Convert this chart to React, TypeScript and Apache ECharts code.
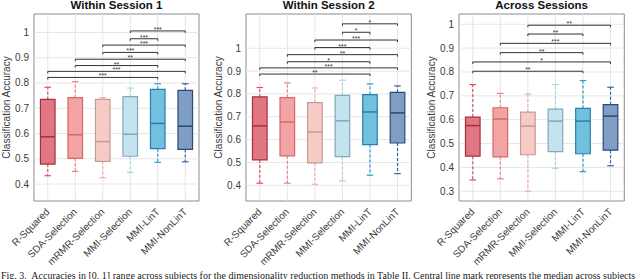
import React, { useEffect, useRef } from "react";
import * as echarts from "echarts";

const categories = ["R-Squared", "SDA-Selection", "mRMR-Selection", "MMI-Selection", "MMI-LinT", "MMI-NonLinT"];
const panelTitles = ["Within Session 1", "Within Session 2", "Across Sessions"];

// [low whisker, Q1, median, Q3, high whisker]
const session1Boxes = [
  [0.433, 0.479, 0.587, 0.735, 0.783],
  [0.45, 0.502, 0.595, 0.742, 0.805],
  [0.425, 0.49, 0.568, 0.735, 0.742],
  [0.446, 0.51, 0.597, 0.746, 0.78],
  [0.486, 0.54, 0.64, 0.775, 0.797],
  [0.488, 0.537, 0.629, 0.771, 0.797],
];
const session2Boxes = [
  [0.409, 0.511, 0.66, 0.787, 0.828],
  [0.409, 0.529, 0.677, 0.784, 0.848],
  [0.404, 0.498, 0.633, 0.762, 0.826],
  [0.419, 0.525, 0.682, 0.794, 0.86],
  [0.444, 0.578, 0.721, 0.797, 0.844],
  [0.451, 0.585, 0.717, 0.807, 0.835],
];
const acrossBoxes = [
  [0.347, 0.447, 0.575, 0.611, 0.747],
  [0.352, 0.444, 0.603, 0.65, 0.71],
  [0.3, 0.453, 0.573, 0.632, 0.708],
  [0.396, 0.466, 0.594, 0.644, 0.747],
  [0.382, 0.457, 0.594, 0.647, 0.764],
  [0.407, 0.472, 0.615, 0.663, 0.736],
];

// significance brackets: [from category, to category, height, stars]
const session1Sig = [
  [3, 5, 1.006, "***"], [3, 4, 0.975, "***"], [2, 5, 0.95, "***"], [2, 4, 0.921, "***"],
  [1, 5, 0.894, "**"], [1, 4, 0.869, "**"], [0, 5, 0.846, "***"], [0, 4, 0.822, "***"],
];
const session2Sig = [
  [3, 5, 1.107, "*"], [3, 4, 1.07, "*"], [2, 5, 1.036, "***"], [2, 4, 1.003, "***"],
  [1, 5, 0.972, "**"], [1, 4, 0.941, "*"], [0, 5, 0.914, "***"], [0, 4, 0.887, "**"],
];
const acrossSig = [
  [2, 5, 0.996, "**"], [2, 4, 0.959, "**"], [1, 5, 0.92, "***"], [1, 4, 0.881, "**"],
  [0, 5, 0.842, "*"], [0, 4, 0.803, "**"],
];

const session1Ticks = [0.4, 0.5, 0.6, 0.7, 0.8, 0.9, 1];
const session2Ticks = [0.4, 0.5, 0.6, 0.7, 0.8, 0.9, 1];
const acrossTicks = [0.3, 0.4, 0.5, 0.6, 0.7, 0.8, 0.9, 1];

const session1Range = [0.333, 1.073];
const session2Range = [0.331, 1.15];
const acrossRange = [0.259, 1.043];

const caption =
  "Fig. 3.  Accuracies in [0, 1] range across subjects for the dimensionality reduction methods in Table II. Central line mark represents the median across subjects";

const FILLS = ["#e27682", "#f4a3a4", "#f8cac6", "#c4e3ee", "#70c0de", "#809dc5"];
const EDGES = ["#a3303e", "#d4686a", "#c49a97", "#7eaabb", "#2a7fae", "#284a78"];
const WHISK = ["#e0505c", "#ee8081", "#f1ada7", "#a3d3e4", "#2b9bd1", "#3a62a0"];

const GRIDS = [
  { left: 34, width: 165, top: 14, height: 187 },
  { left: 246, width: 165.3, top: 14, height: 187 },
  { left: 459, width: 165.3, top: 14, height: 187 },
];

const fmt = (v: number) => {
  if (Math.abs(v * 10 - Math.round(v * 10)) > 1e-6) return "";
  if (v > 1.0001) return "";
  return String(Math.round(v * 10) / 10);
};

function buildOption() {
  const boxes = [session1Boxes, session2Boxes, acrossBoxes];
  const sigs = [session1Sig, session2Sig, acrossSig];
  const ticks = [session1Ticks, session2Ticks, acrossTicks];
  const ranges = [session1Range, session2Range, acrossRange];

  const series: any[] = [];
  boxes.forEach((b, p) => {
    series.push({
      type: "custom",
      xAxisIndex: p,
      yAxisIndex: p,
      z: 1,
      silent: true,
      data: ticks[p].map((v) => [0, v]),
      encode: { x: 0, y: 1 },
      renderItem: (params: any, api: any) => {
        const cs = params.coordSys;
        const y = api.coord([0, api.value(1)])[1];
        return {
          type: "line",
          shape: { x1: cs.x, y1: y, x2: cs.x + cs.width, y2: y },
          style: { stroke: "#e6e6e6", lineWidth: 1 },
        };
      },
    });
    series.push({
      type: "custom",
      xAxisIndex: p,
      yAxisIndex: p,
      z: 1,
      silent: true,
      data: categories.map((_, i) => [i, ranges[p][0]]),
      encode: { x: 0, y: 1 },
      renderItem: (params: any, api: any) => {
        const cs = params.coordSys;
        const x = api.coord([api.value(0), api.value(1)])[0];
        return {
          type: "line",
          shape: { x1: x, y1: cs.y, x2: x, y2: cs.y + cs.height },
          style: { stroke: "#e6e6e6", lineWidth: 1 },
        };
      },
    });
    series.push({
      type: "custom",
      name: panelTitles[p],
      xAxisIndex: p,
      yAxisIndex: p,
      z: 3,
      data: b.map((r, i) => [i, ...r]),
      encode: { x: 0, y: [1, 2, 3, 4, 5] },
      renderItem: (params: any, api: any) => {
        const i = api.value(0);
        const pLow = api.coord([i, api.value(1)]);
        const pQ1 = api.coord([i, api.value(2)]);
        const pMed = api.coord([i, api.value(3)]);
        const pQ3 = api.coord([i, api.value(4)]);
        const pHigh = api.coord([i, api.value(5)]);
        const band = api.size([1, 0])[0];
        const hw = band * 0.265;
        const cw = band * 0.12;
        const x = pMed[0];
        const k = params.dataIndex;
        return {
          type: "group",
          children: [
            { type: "line", shape: { x1: x, y1: pQ3[1], x2: x, y2: pHigh[1] }, style: { stroke: WHISK[k], lineWidth: 1.2, lineDash: [3, 2] } },
            { type: "line", shape: { x1: x, y1: pQ1[1], x2: x, y2: pLow[1] }, style: { stroke: WHISK[k], lineWidth: 1.2, lineDash: [3, 2] } },
            { type: "line", shape: { x1: x - cw, y1: pHigh[1], x2: x + cw, y2: pHigh[1] }, style: { stroke: WHISK[k], lineWidth: 1.2 } },
            { type: "line", shape: { x1: x - cw, y1: pLow[1], x2: x + cw, y2: pLow[1] }, style: { stroke: WHISK[k], lineWidth: 1.2 } },
            { type: "rect", shape: { x: x - hw, y: pQ3[1], width: hw * 2, height: pQ1[1] - pQ3[1] }, style: { fill: FILLS[k], stroke: EDGES[k], lineWidth: 1.2 } },
            { type: "line", shape: { x1: x - hw, y1: pMed[1], x2: x + hw, y2: pMed[1] }, style: { stroke: EDGES[k], lineWidth: 1.5 } },
          ],
        };
      },
    });
    series.push({
      type: "custom",
      xAxisIndex: p,
      yAxisIndex: p,
      z: 4,
      silent: true,
      data: sigs[p],
      encode: { x: [0, 1], y: 2 },
      renderItem: (params: any, api: any) => {
        const a = api.coord([api.value(0), api.value(2)]);
        const c = api.coord([api.value(1), api.value(2)]);
        const label = sigs[p][params.dataIndex][3] as string;
        return {
          type: "group",
          children: [
            {
              type: "polyline",
              shape: { points: [[a[0], a[1] + 2], [a[0], a[1]], [c[0], c[1]], [c[0], c[1] + 2]] },
              style: { stroke: "#333", lineWidth: 1, fill: "none" },
            },
            {
              type: "text",
              style: {
                text: label,
                x: (a[0] + c[0]) / 2,
                y: a[1] + 2,
                align: "center",
                verticalAlign: "bottom",
                font: "7px 'Liberation Sans', Arial, sans-serif",
                fill: "#333",
              },
            },
          ],
        };
      },
    });
  });

  return {
    animation: false,
    backgroundColor: "#ffffff",
    textStyle: { fontFamily: "'Liberation Sans', Arial, sans-serif" },
    title: GRIDS.map((g, p) => ({
      text: panelTitles[p],
      left: g.left + g.width / 2,
      top: -1,
      padding: 0,
      textAlign: "center",
      textStyle: { fontSize: 11.5, fontWeight: "bold", color: "#111", fontFamily: "'Liberation Sans', Arial, sans-serif" },
    })),
    grid: GRIDS.map((g) => ({
      left: g.left,
      width: g.width,
      top: g.top,
      height: g.height,
      show: true,
      borderColor: "#8c8c8c",
      borderWidth: 1,
      backgroundColor: "transparent",
      containLabel: false,
    })),
    xAxis: GRIDS.map((_, p) => ({
      type: "category",
      gridIndex: p,
      data: categories,
      boundaryGap: true,
      axisLine: { show: false },
      axisTick: { show: false },
      splitLine: { show: false },
      axisLabel: { rotate: 45, fontSize: 10, color: "#3a3a3a", margin: 9, interval: 0 },
    })),
    yAxis: GRIDS.map((_, p) => ({
      type: "value",
      gridIndex: p,
      min: ranges[p][0],
      max: ranges[p][1],
      splitNumber: 8,
      axisLine: { show: false },
      axisTick: { show: false },
      splitLine: { show: false },
      axisLabel: { fontSize: 10, color: "#3a3a3a", margin: 5, formatter: fmt, showMinLabel: false, showMaxLabel: false },
      name: "Classification Accuracy",
      nameLocation: "middle",
      nameGap: 19,
      nameTextStyle: { fontSize: 10, color: "#3a3a3a" },
    })),
    graphic: [
      {
        type: "text",
        left: 1,
        top: 270,
        style: { text: caption, font: "10px 'Liberation Serif', 'Times New Roman', serif", fill: "#222" },
      },
    ],
    series,
  };
}

export default function App() {
  const ref = useRef<HTMLDivElement>(null);
  useEffect(() => {
    if (!ref.current) return;
    const chart = echarts.init(ref.current, undefined, { renderer: "svg" });
    chart.setOption(buildOption() as any);
    return () => chart.dispose();
  }, []);
  return (
    <div
      ref={ref}
      style={{ position: "absolute", left: 0, top: 0, width: 640, height: 279, overflow: "hidden", background: "#fff" }}
    />
  );
}
